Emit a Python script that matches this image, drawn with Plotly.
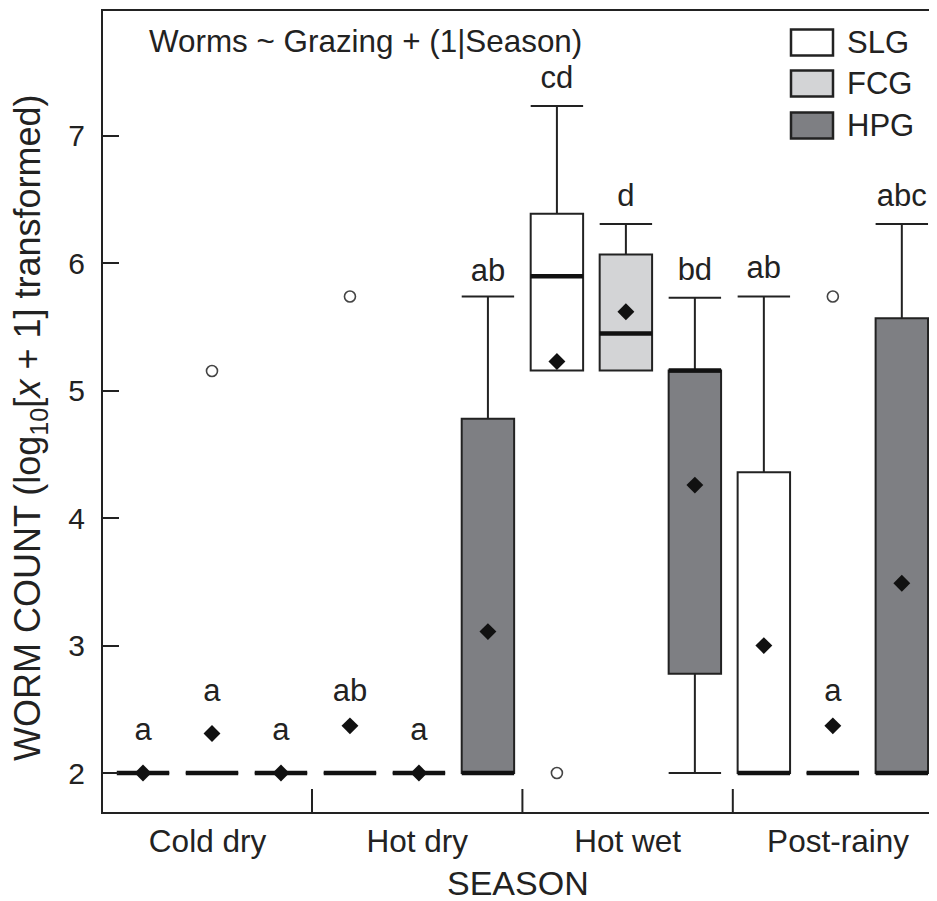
import plotly.graph_objects as go

# ---------------- data ----------------
seasons = ["Cold dry", "Hot dry", "Hot wet", "Post-rainy"]
groups = ["SLG", "FCG", "HPG"]
group_colors = ["#ffffff", "#d3d4d6", "#7e7f83"]

# one entry per box, ordered season by season (SLG, FCG, HPG)
q1 =      [2.00, 2.00, 2.00,  2.00, 2.00, 2.00,  5.16, 5.16, 2.78,  2.00, 2.00, 2.00]
median =  [2.00, 2.00, 2.00,  2.00, 2.00, 2.00,  5.90, 5.45, 5.16,  2.00, 2.00, 2.00]
q3 =      [2.00, 2.00, 2.00,  2.00, 2.00, 4.78,  6.39, 6.07, 5.16,  4.36, 2.00, 5.57]
lower =   [2.00, 2.00, 2.00,  2.00, 2.00, 2.00,  5.16, 5.16, 2.00,  2.00, 2.00, 2.00]
upper =   [2.00, 2.00, 2.00,  2.00, 2.00, 5.74,  7.235, 6.31, 5.73, 5.74, 2.00, 6.31]
means =   [2.00, 2.31, 2.00,  2.37, 2.00, 3.11,  5.23, 5.62, 4.26,  3.00, 2.37, 3.49]
outliers = [[], [5.155], [],  [5.74], [], [],  [2.00], [], [],  [], [5.74], []]
letters = ["a", "a", "a",  "ab", "a", "ab",  "cd", "d", "bd",  "ab", "a", "abc"]
letter_y = [2.32, 2.63, 2.32,  2.63, 2.32, 5.92,  7.44, 6.51, 5.93,  5.95, 2.63, 6.51]

y_ticks = [2, 3, 4, 5, 6, 7]

# ---------------- layout helpers ----------------
FONT = "Liberation Sans, Arial, Helvetica, sans-serif"
INK = "#222222"
BOX_W = 0.76
positions = list(range(1, len(q1) + 1))
x_range = [0.42, 12.51]
season_edges = [0.42, 3.45, 6.5, 9.55, 12.6]
season_centers = [(a + b) / 2 for a, b in zip(season_edges[:-1], season_edges[1:])]

PAGE_OFF = 8  # default page margin of the html body
FIG_W, FIG_H = 937 - PAGE_OFF, 901 - PAGE_OFF
M_L, M_R, M_T, M_B = 95, 0, 3, 89
PW, PH = FIG_W - M_L - M_R, FIG_H - M_T - M_B


def px_x(px):
    return (px - PAGE_OFF - M_L) / PW


def px_y(py):
    return (FIG_H - M_B - (py - PAGE_OFF)) / PH


fig = go.Figure()

# boxes, one trace per grazing group
for g, (name, col) in enumerate(zip(groups, group_colors)):
    idx = [i for i in range(len(q1)) if i % 3 == g]
    fig.add_trace(go.Box(
        x=[positions[i] for i in idx],
        q1=[q1[i] for i in idx],
        median=[median[i] for i in idx],
        q3=[q3[i] for i in idx],
        lowerfence=[lower[i] for i in idx],
        upperfence=[upper[i] for i in idx],
        name=name,
        width=BOX_W,
        whiskerwidth=1,
        fillcolor=col,
        line=dict(color=INK, width=2),
        boxpoints=False,
        showlegend=False,
        hoverinfo="skip",
    ))

# thick median lines
mx, my = [], []
for p, m in zip(positions, median):
    mx += [p - BOX_W / 2, p + BOX_W / 2, None]
    my += [m, m, None]
fig.add_trace(go.Scatter(x=mx, y=my, mode="lines",
                         line=dict(color="#111111", width=4.5),
                         showlegend=False, hoverinfo="skip"))

# means
fig.add_trace(go.Scatter(x=positions, y=means, mode="markers",
                         marker=dict(symbol="diamond", size=13, color="#111111"),
                         showlegend=False, hoverinfo="skip"))

# outliers
ox, oy = [], []
for p, outs in zip(positions, outliers):
    for v in outs:
        ox.append(p)
        oy.append(v)
fig.add_trace(go.Scatter(x=ox, y=oy, mode="markers",
                         marker=dict(symbol="circle-open", size=11,
                                     line=dict(color="#444444", width=1.6),
                                     color="#444444"),
                         showlegend=False, hoverinfo="skip"))

# significance letters
fig.add_trace(go.Scatter(x=positions, y=letter_y, mode="text", text=letters,
                         textposition="middle center",
                         textfont=dict(family=FONT, size=31, color=INK),
                         showlegend=False, hoverinfo="skip"))

shapes = []
# season separators (short ticks rising from the x axis)
for e in season_edges[1:-1]:
    shapes.append(dict(type="line", xref="x", yref="paper", x0=e, x1=e,
                       y0=0, y1=23 / PH, line=dict(color=INK, width=2)))

annotations = []
# manual legend
legend_rows_px = [42.5, 83.5, 125.5]
for name, col, cy in zip(groups, group_colors, legend_rows_px):
    shapes.append(dict(type="rect", xref="paper", yref="paper",
                       x0=px_x(791), x1=px_x(833),
                       y0=px_y(cy + 13), y1=px_y(cy - 13),
                       fillcolor=col, line=dict(color=INK, width=2.5)))
    annotations.append(dict(xref="paper", yref="paper", x=px_x(845), y=px_y(cy),
                            text=name, showarrow=False, xanchor="left",
                            yanchor="middle",
                            font=dict(family=FONT, size=31, color=INK)))

# model formula
annotations.append(dict(xref="paper", yref="paper", x=px_x(147), y=px_y(42),
                        text="Worms ~ Grazing + (1|Season)", showarrow=False,
                        xanchor="left", yanchor="middle",
                        font=dict(family=FONT, size=31.4, color=INK)))

# axis titles
annotations.append(dict(xref="paper", yref="paper", x=px_x(518), y=px_y(883),
                        text="SEASON", showarrow=False, xanchor="center",
                        yanchor="middle",
                        font=dict(family=FONT, size=34, color=INK)))
annotations.append(dict(xref="paper", yref="paper", x=px_x(30), y=px_y(428),
                        text="WORM COUNT (log<sub>10</sub>[<i>x</i> + 1] transformed)",
                        showarrow=False, xanchor="center", yanchor="middle",
                        textangle=-90,
                        font=dict(family=FONT, size=36, color=INK)))

fig.update_layout(
    width=FIG_W, height=FIG_H,
    margin=dict(l=M_L, r=M_R, t=M_T, b=M_B),
    paper_bgcolor="white", plot_bgcolor="white",
    shapes=shapes, annotations=annotations,
    font=dict(family=FONT, color=INK),
    xaxis=dict(range=x_range, showline=True, mirror=True, linecolor=INK,
               linewidth=2, ticks="", showgrid=False, zeroline=False,
               tickvals=season_centers, ticktext=seasons,
               tickfont=dict(family=FONT, size=31.5, color=INK),
               ticklabelstandoff=0),
    yaxis=dict(range=[1.694, 7.981], showline=True, mirror=False,
               linecolor=INK, linewidth=2, ticks="inside", ticklen=16,
               tickwidth=1.5, tickcolor=INK, showgrid=False, zeroline=False,
               tickvals=y_ticks, ticktext=[str(t) for t in y_ticks],
               tickfont=dict(family=FONT, size=30, color=INK),
               ticklabelstandoff=10),
)

fig.write_html("out.html")
